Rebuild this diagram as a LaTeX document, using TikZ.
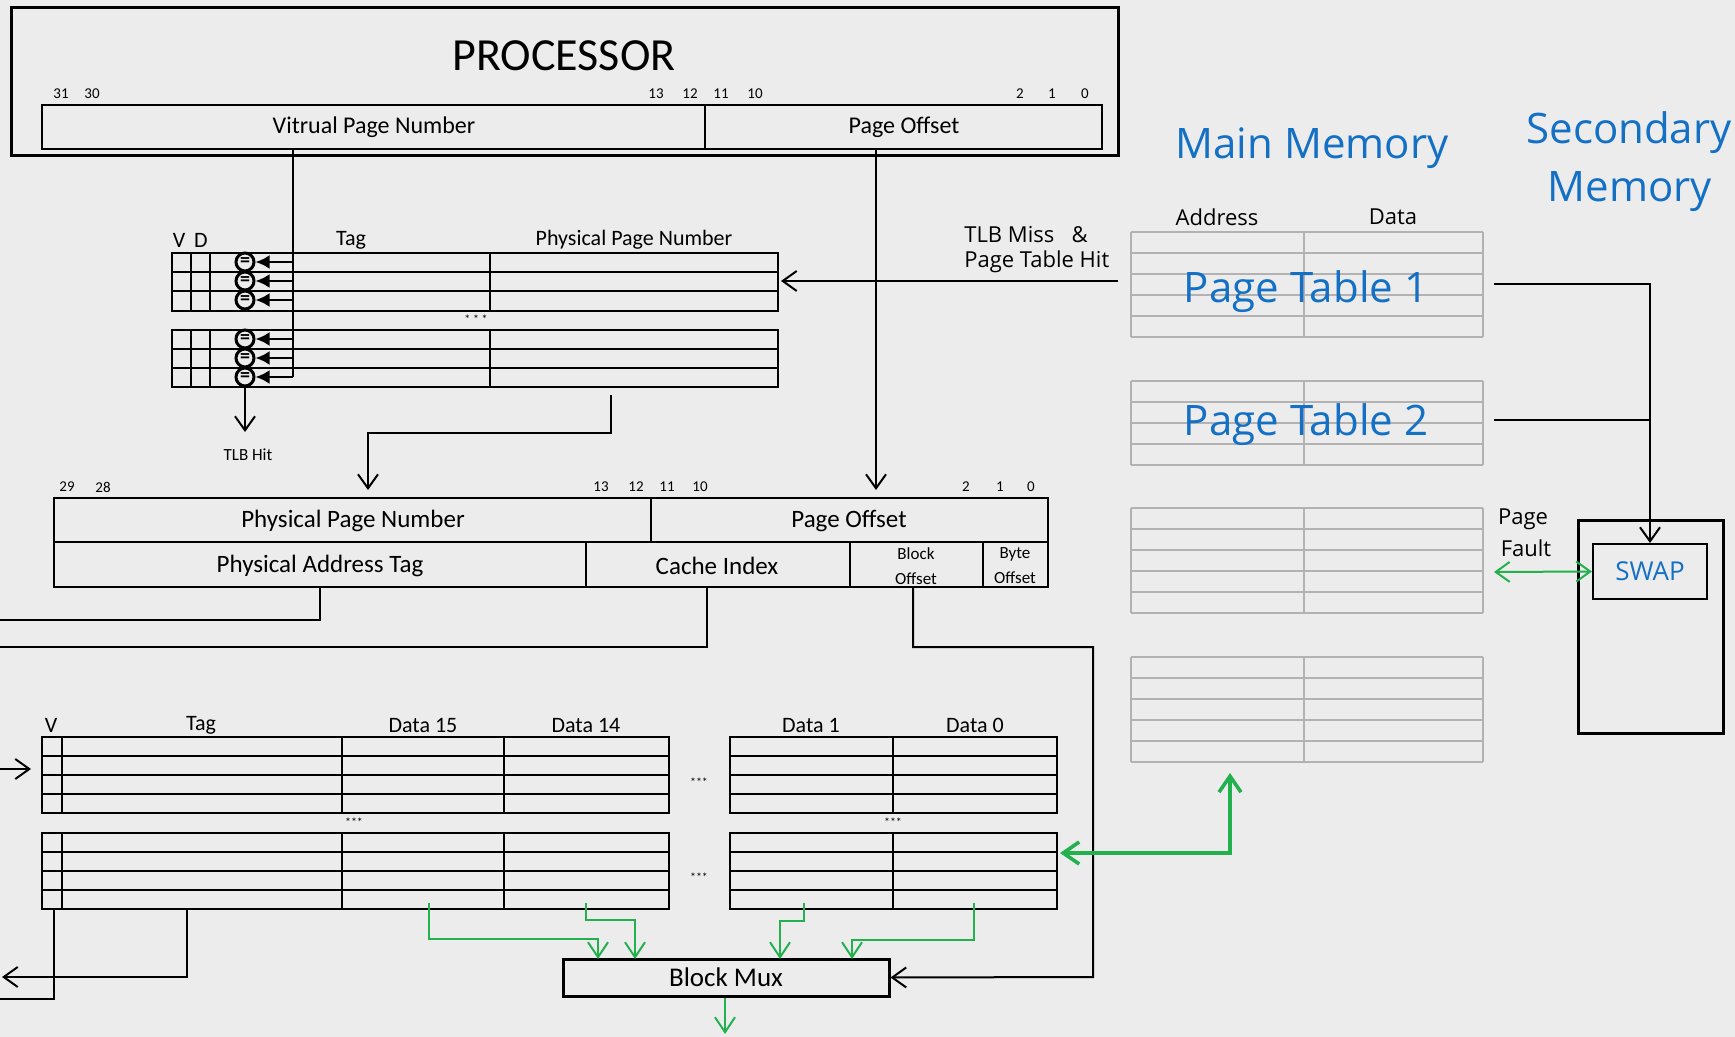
\documentclass[tikz,border=0pt]{standalone}
\usepackage{fontspec}
\setmainfont{Carlito}
\newfontfamily\uifont{Open Sans}
\usetikzlibrary{arrows.meta}
\definecolor{paper}{RGB}{236,236,236}
\definecolor{memblue}{RGB}{20,112,196}
\definecolor{busgreen}{RGB}{34,177,76}
\definecolor{gridgray}{RGB}{178,178,178}
\newcommand{\fs}[1]{\fontsize{#1}{#1}\selectfont}
\tikzset{
  wire/.style={line width=1pt, draw=black},
  barb/.style={-{Straight Barb[length=7pt,width=10pt,line width=1pt]}},
  gwire/.style={line width=1pt, draw=busgreen},
  gbarb/.style={gwire, -{Straight Barb[length=7.5pt,width=10pt,line width=1pt]}},
  memgrid/.style={line width=1pt, draw=gridgray},
  txt/.style={inner sep=0pt, text=black},
  bitno/.style={txt, font=\fs{7.5}},
  fieldlbl/.style={txt, font=\fs{12}},
  palbl/.style={txt, font=\fs{12.5}},
  small/.style={txt, font=\fs{8.5}, align=center},
  colhead/.style={txt, font=\fs{11}},
  dots/.style={txt, font=\fs{6}},
  cmp/.style={circle, draw, line width=1.5pt, fill=paper, minimum size=9pt, inner sep=0pt, font=\fs{10}\bfseries},
  bigblue/.style={txt, text=memblue, font=\uifont\fs{21}},
  uilbl/.style={txt, font=\uifont\fs{11}, align=left},
}
\begin{document}
\begin{tikzpicture}[x=0.5pt, y=-0.5pt]
\useasboundingbox (0,0) rectangle (1735,1037);
\fill[paper] (0,0) rectangle (1735,1037);

% ---------------- processor and virtual address ----------------
\draw[line width=1.5pt] (11,8) rectangle (1118,156);
\node[txt, font=\fs{23}] (proc) at (564,56) {PROCESSOR};
\draw[wire] (42,105) rectangle (1102,149);
\draw[wire] (705,105) -- (705,149);
\node[fieldlbl] (vpn) at (374,127) {Vitrual Page Number};
\node[fieldlbl] (vpo) at (904,127) {Page Offset};
\foreach \n/\x in {31/61,30/92,13/656,12/690,11/721,10/755,2/1020,1/1052,0/1085}
  \node[bitno] (vb\n) at (\x,94) {\n};
\coordinate (vpnOut) at (293,149);
\coordinate (vpoOut) at (876,149);

% ---------------- TLB ----------------
\node[colhead] (tlbV) at (179,240) {V};
\node[colhead] (tlbD) at (201,240) {D};
\node[colhead] (tlbTag) at (351,240) {Tag};
\node[colhead] (tlbPPN) at (634,240) {Physical Page Number};
\foreach \t/\b/\ra/\rb in {253/311/272/291, 330/387/349/368} {
  \draw[wire] (172,\t) rectangle (778,\b);
  \draw[wire] (172,\ra) -- (778,\ra) (172,\rb) -- (778,\rb);
  \draw[wire] (191,\t) -- (191,\b) (210,\t) -- (210,\b) (490,\t) -- (490,\b);
}
\node[dots] (tlbdots) at (476,319) {* * *};
\draw[line width=1.3pt] (vpnOut) -- (293,377);
\foreach \i/\y in {1/262,2/281,3/300,4/339,5/358,6/377} {
  \node[cmp] (c\i) at (245,\y) {=};
  \coordinate (tap\i) at (293,\y);
  \draw[line width=1.4pt, -{Latex[length=7pt,width=7pt]}] (tap\i) -- (c\i.east);
}
\coordinate (hitEnd) at (245,432);
\draw[wire, barb] (c6.south) -- (hitEnd);
\node[small] (tlbhit) at (248,455) {TLB Hit};

% TLB miss / page table hit path
\coordinate (ptHitStart) at (1118,281);
\coordinate (tlbRight) at (781,281);
\draw[line width=1.2pt, barb] (ptHitStart) -- (tlbRight);
\node[uilbl, anchor=west] (missA) at (964,235) {TLB Miss\ \ \ \&};
\node[uilbl, anchor=west] (missB) at (964,262) {Page Table Hit};

% ---------------- physical address ----------------
\coordinate (ppnOut) at (611,395);
\coordinate (ppnIn) at (368,490);
\coordinate (poIn) at (876,490);
\draw[wire, barb] (ppnOut) -- (611,433) -- (368,433) -- (ppnIn);
\draw[line width=1.2pt, barb] (vpoOut) -- (poIn);

\draw[wire] (54,498) rectangle (1048,587);
\draw[wire] (54,542) -- (1048,542);
\draw[wire] (651,498) -- (651,542);
\draw[wire] (586,542) -- (586,587) (850,542) -- (850,587) (983,542) -- (983,587);
\foreach \n/\x in {29/67,28/103,13/601,12/636,11/667,10/700,2/966,1/1000,0/1031}
  \node[bitno] (pb\n) at (\x,487) {\n};
\node[palbl] (pppn) at (353,521) {Physical Page Number};
\node[palbl] (ppo) at (849,521) {Page Offset};
\node[palbl] (ptag) at (320,566) {Physical Address Tag};
\node[palbl] (pidx) at (717,566) {Cache Index};
\node[small] (pblk) at (916,566) {Block\\[4pt]Offset};
\node[small] (pbyte) at (1015,566) {Byte\\[4pt]Offset};

\coordinate (tagOut) at (320,587);
\coordinate (idxOut) at (707,587);
\coordinate (blkOut) at (913,587);
\coordinate (tagEdge) at (0,620);
\coordinate (idxEdge) at (0,647);
\draw[wire] (tagOut) -- (320,620) -- (tagEdge);
\draw[wire] (idxOut) -- (707,647) -- (idxEdge);

% ---------------- cache ----------------
\node[colhead] (cV) at (51,725) {V};
\node[colhead] (cTag) at (201,725) {Tag};
\node[colhead] (cD15) at (423,725) {Data 15};
\node[colhead] (cD14) at (586,725) {Data 14};
\node[colhead] (cD1) at (811,725) {Data 1};
\node[colhead] (cD0) at (975,725) {Data 0};
\foreach \t in {737, 833} {
  \draw[wire] (42,\t) rectangle (669,\t+76);
  \draw[wire] (730,\t) rectangle (1057,\t+76);
  \foreach \k in {19,38,57} {
    \draw[wire] (42,\t+\k) -- (669,\t+\k);
    \draw[wire] (730,\t+\k) -- (1057,\t+\k);
  }
  \draw[line width=0.6pt] (62,\t) -- (62,\t+76);
  \draw[wire] (342,\t) -- (342,\t+76) (504,\t) -- (504,\t+76) (893,\t) -- (893,\t+76);
}
\node[dots] (cdA) at (699,782) {***};
\node[dots] (cdB) at (699,877) {***};
\node[dots] (cdC) at (354,822) {***};
\node[dots] (cdD) at (893,822) {***};

\coordinate (idxReturn) at (0,769);
\coordinate (idxTip) at (31,769);
\draw[wire, barb] (idxReturn) -- (idxTip);

\coordinate (vOut) at (54,909);
\coordinate (ctagOut) at (187,909);
\draw[wire] (vOut) -- (54,999) -- (0,999);
\draw[wire, barb] (ctagOut) -- (187,977) -- (2,977);

% block mux and data paths
\node[draw, line width=1.5pt, minimum width=163pt, minimum height=18.5pt, inner sep=0pt,
      font=\fs{13.5}] (mux) at (726,977.5) {Block Mux};
\draw[wire, barb] (blkOut) -- (913,647) -- (1093,647) -- (1093,977) -- (mux.east);
\draw[gbarb] (429,903) -- (429,939) -- (598,939) -- (598,959);
\draw[gbarb] (586,903) -- (586,920) -- (635,920) -- (635,959);
\draw[gbarb] (804,903) -- (804,921) -- (780,921) -- (780,959);
\draw[gbarb] (974,903) -- (974,940) -- (852,940) -- (852,959);
\coordinate (muxOut) at (725,1034);
\draw[gbarb] (mux.south) ++(-1,0) -- (muxOut);

% ---------------- main memory ----------------
\node[bigblue] (mmTitle) at (1312,148) {Main Memory};
\node[uilbl] (mmAddr) at (1217,217) {Address};
\node[uilbl] (mmData) at (1393,217) {Data};
\foreach \t/\n in {232/5, 381/4, 508/5, 657/5} {
  \foreach \k in {0,...,\n}
    \draw[memgrid] (1131,\t+21*\k) -- (1483,\t+21*\k);
  \draw[memgrid] (1131,\t) -- (1131,\t+21*\n) (1304,\t) -- (1304,\t+21*\n) (1483,\t) -- (1483,\t+21*\n);
}
\node[bigblue] (pt1) at (1306,292) {Page Table 1};
\node[bigblue] (pt2) at (1306,425) {Page Table 2};

\coordinate (cacheFill) at (1060,853);
\coordinate (memFill) at (1230,773);
\draw[line width=1.8pt, draw=busgreen,
      {Straight Barb[length=8pt,width=11pt,line width=1.8pt]}-{Straight Barb[length=8pt,width=11pt,line width=1.8pt]}]
      (cacheFill) -- (1230,853) -- (memFill);

% ---------------- secondary memory ----------------
\node[bigblue] (smA) at (1629,133) {Secondary};
\node[bigblue] (smB) at (1630,192) {Memory};
\draw[line width=1.5pt] (1578,520) rectangle (1723,733);
\node[draw, line width=1pt, minimum width=57pt, minimum height=27.5pt, inner sep=0pt,
      text=memblue, font=\uifont\fs{13}] (swap) at (1650,571.5) {SWAP};
\coordinate (pt1Out) at (1494,284);
\coordinate (pt2Out) at (1494,420);
\draw[wire, barb] (pt1Out) -- (1650,284) -- (swap.north);
\draw[wire] (pt2Out) -- (1650,420);
\node[uilbl] (pfA) at (1523,519) {Page};
\node[uilbl] (pfB) at (1526,548) {Fault};
\coordinate (faultMem) at (1494,572);
\draw[gwire, {Straight Barb[length=7pt,width=10pt,line width=1pt]}-{Straight Barb[length=7pt,width=10pt,line width=1pt]}]
      (faultMem) -- (swap.west);
\end{tikzpicture}
\end{document}
